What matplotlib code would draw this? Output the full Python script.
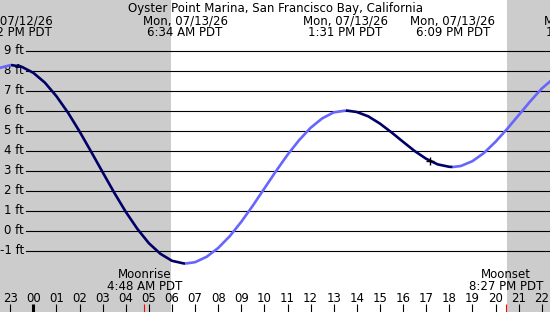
import matplotlib
matplotlib.use("Agg")
import matplotlib.pyplot as plt
import numpy as np

plt.rcParams['font.family'] = ['DejaVu Sans']

# hours relative to midnight of 07/13/26, tide heights in ft
hours = [-1.5, -1.0, -0.5, 0.0, 0.5, 1.0, 1.5, 2.0, 2.5, 3.0, 3.5, 4.0, 4.5,
         5.0, 5.5, 6.0, 6.5, 7.0, 7.5, 8.0, 8.5, 9.0, 9.5, 10.0, 10.5, 11.0,
         11.5, 12.0, 12.5, 13.0, 13.5, 14.0, 14.5, 15.0, 15.5, 16.0, 16.5,
         17.0, 17.5, 18.0, 18.5, 19.0, 19.5, 20.0, 20.5, 21.0, 21.5, 22.0, 22.5]
heights = [8.14, 8.29, 8.21, 7.91, 7.42, 6.74, 5.92, 4.98, 3.97, 2.94, 1.92,
           0.96, 0.11, -0.61, -1.14, -1.49, -1.62, -1.56, -1.29, -0.85, -0.26,
           0.46, 1.27, 2.13, 2.99, 3.81, 4.54, 5.16, 5.63, 5.93, 6.02, 5.95,
           5.73, 5.37, 4.93, 4.46, 4.00, 3.61, 3.33, 3.21, 3.25, 3.49, 3.90,
           4.46, 5.10, 5.79, 6.48, 7.12, 7.62]

# high / low tides
ext_hours = [-0.967, 6.567, 13.517, 18.15, 23.95]
ext_heights = [8.30, -1.63, 6.03, 3.20, 7.95]
ext_date = ["Sun, 07/12/26", "Mon, 07/13/26", "Mon, 07/13/26", "Mon, 07/13/26", "Mon, 07/13/26"]
ext_time = ["11:02 PM PDT", "6:34 AM PDT", "1:31 PM PDT", "6:09 PM PDT", "11:57 PM PDT"]

moon_hours = [4.8, 20.45]
moon_names = ["Moonrise", "Moonset"]
moon_time = ["4:48 AM PDT", "8:27 PM PDT"]

sunrise, sunset = 5.95, 20.49
now_hour, now_height = 17.17, 3.5
hour_ticks = list(range(-1, 23))
ft_levels = list(range(-1, 10))

title = "Oyster Point Marina, San Francisco Bay, California"

W, H = 550, 312
fig = plt.figure(figsize=(W / 100, H / 100), dpi=100)
ax = fig.add_axes([0, 0, 1, 1])
ax.set_xlim(-1.441, 22.358)
ax.set_ylim(-4.05, 11.55)
ax.axis('off')

def fy(px):
    return 1 - px / H

night = '#cccccc'
ax.axvspan(-5, sunrise, color=night, lw=0, zorder=0)
ax.axvspan(sunset, 30, color=night, lw=0, zorder=0)

for lv in ft_levels:
    ax.axhline(lv, xmin=26 / W, xmax=1, color='black', lw=0.8, zorder=1)
    ax.text(24 / W, lv, f"{lv} ft", transform=ax.get_yaxis_transform(),
            ha='right', va='center', fontsize=8.5)

# merge readings with extremes so colour changes at the turning points
t = np.array(hours + ext_hours)
h = np.array(heights + ext_heights)
order = np.argsort(t)
t, h = t[order], h[order]
rising = np.diff(h) > 0
start = 0
for i in range(1, len(rising) + 1):
    if i == len(rising) or rising[i] != rising[start]:
        col = '#6666ff' if rising[start] else '#000066'
        ax.plot(t[start:i + 1], h[start:i + 1], color=col, lw=1.9,
                solid_joinstyle='round', solid_capstyle='butt', zorder=3)
        start = i

ax.plot(now_hour, now_height, marker='+', color='black', ms=6, mew=1, zorder=4)

tx = ax.get_xaxis_transform()
ax.text(0.5, fy(12), title, transform=ax.transAxes, ha='center', va='baseline', fontsize=8.5)
for x, d, tm in zip(ext_hours, ext_date, ext_time):
    ax.text(x, fy(24), d, transform=tx, ha='center', va='baseline', fontsize=8.5)
    ax.text(x, fy(36), tm, transform=tx, ha='center', va='baseline', fontsize=8.5)

for x, nm, tm in zip(moon_hours, moon_names, moon_time):
    ax.text(x, fy(278), nm, transform=tx, ha='center', va='baseline', fontsize=8.5)
    ax.text(x, fy(289.5), tm, transform=tx, ha='center', va='baseline', fontsize=8.5)
    ax.vlines(x, 0, 8 / H, transform=tx, color='red', lw=0.8)

for hr in hour_ticks:
    ax.text(hr, fy(302), f"{hr % 24:02d}", transform=tx, ha='center', va='baseline', fontsize=8.5)
    ax.vlines(hr, 0, 8 / H, transform=tx, color='black', lw=2.2 if hr == 0 else 0.8)

fig.savefig("out.png", dpi=100)
